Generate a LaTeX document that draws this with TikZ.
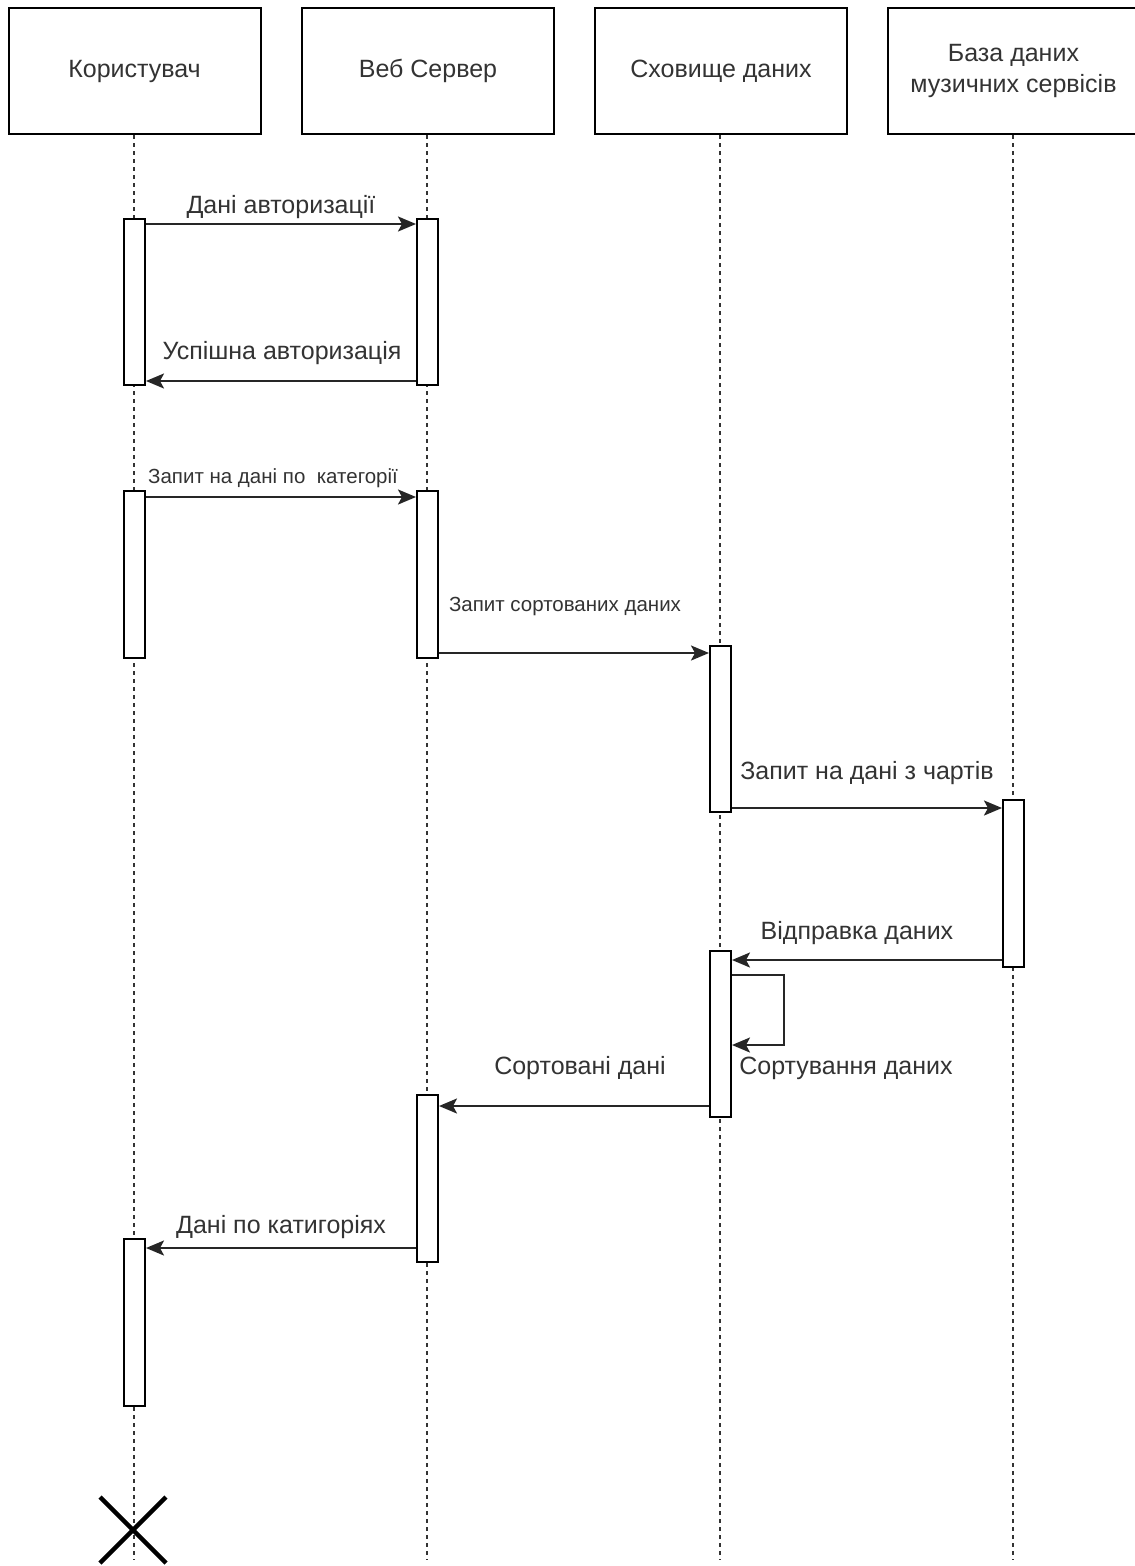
\documentclass[tikz,border=0pt]{standalone}
\usepackage{fontspec}
\setmainfont{Liberation Sans}
\usetikzlibrary{arrows.meta,calc}
\definecolor{txt}{HTML}{333333}
\tikzset{
  hdr/.style={draw=black,line width=2pt,fill=white,minimum width=252pt,minimum height=126pt,inner sep=0pt,font=\fontsize{25}{31}\selectfont,text=txt,align=center},
  act/.style={draw=black,line width=2pt,fill=white,minimum width=21pt,inner sep=0pt,anchor=north},
  life/.style={draw=black!80,line width=1.5pt,dash pattern=on 4pt off 4pt},
  msg/.style={draw=black!85,line width=2.3pt,-{Stealth[length=18pt,width=15pt,inset=4pt]}},
  lbl/.style={text=txt,inner sep=0pt,font=\fontsize{25}{30}\selectfont},
  slbl/.style={text=txt,inner sep=0pt,font=\fontsize{20.5}{24}\selectfont},
}
\begin{document}
\begin{tikzpicture}[x=1pt,y=-1pt]
\useasboundingbox[fill=white] (0,0) rectangle (1135,1566);
% headers
\node[hdr] (h1) at (134.5,71) {Користувач};
\node[hdr] (h2) at (428,71) {Веб Сервер};
\node[hdr] (h3) at (721,71) {Сховище даних};
\node[hdr] (h4) at (1013.5,71) {База даних\\музичних сервісів};
% lifeline ends
\coordinate (e1) at (134,1560);
\coordinate (e2) at (427,1560);
\coordinate (e3) at (720,1560);
\coordinate (e4) at (1013,1560);
\draw[life] (h1.south -| e1) -- (e1);
\draw[life] (h2.south -| e2) -- (e2);
\draw[life] (h3.south -| e3) -- (e3);
\draw[life] (h4.south -| e4) -- (e4);
% activations
\node[act,minimum height=166pt] (ua1) at (134.5,218) {};
\node[act,minimum height=166pt] (sa1) at (427.5,218) {};
\node[act,minimum height=167pt] (ua2) at (134.5,490) {};
\node[act,minimum height=167pt] (sa2) at (427.5,490) {};
\node[act,minimum height=166pt] (st1) at (720.5,645) {};
\node[act,minimum height=167pt] (db1) at (1013.5,799) {};
\node[act,minimum height=166pt] (st2) at (720.5,950) {};
\node[act,minimum height=167pt] (sa3) at (427.5,1094) {};
\node[act,minimum height=167pt] (ua3) at (134.5,1238) {};
% messages
\draw[msg] ([yshift=-6pt]ua1.north east) -- ([yshift=-6pt]ua1.north east -| sa1.west);
\node[lbl] (l1) at (281,207) {Дані авторизації};
\draw[msg] ([yshift=5pt]sa1.south west) -- ([yshift=5pt]sa1.south west -| ua1.east);
\node[lbl] (l2) at (282,353) {Успішна авторизація};
\draw[msg] ([yshift=-7pt]ua2.north east) -- ([yshift=-7pt]ua2.north east -| sa2.west);
\node[slbl] (l3) at (273,478) {Запит на дані по\ \ категорії};
\draw[msg] ([yshift=6pt]sa2.south east) -- ([yshift=6pt]sa2.south east -| st1.west);
\node[slbl] (l4) at (565,606) {Запит сортованих даних};
\draw[msg] ([yshift=5pt]st1.south east) -- ([yshift=5pt]st1.south east -| db1.west);
\node[lbl] (l5) at (867,773) {Запит на дані з чартів};
\draw[msg] ([yshift=8pt]db1.south west) -- ([yshift=8pt]db1.south west -| st2.east);
\node[lbl] (l6) at (857,933) {Відправка даних};
\draw[msg] ([yshift=-25pt]st2.north east) -- ++(52,0) -- ++(0,70) -- ([yshift=-95pt]st2.north east);
\node[lbl] (l7) at (846,1068) {Сортування даних};
\draw[msg] ([yshift=12pt]st2.south west) -- ([yshift=12pt]st2.south west -| sa3.east);
\node[lbl] (l8) at (580,1068) {Сортовані дані};
\draw[msg] ([yshift=15pt]sa3.south west) -- ([yshift=15pt]sa3.south west -| ua3.east);
\node[lbl] (l9) at (281,1227) {Дані по катигоріях};
% destruction
\coordinate (x0) at (133,1530);
\draw[line width=4.5pt] ($(x0)+(-33,-33)$) -- ($(x0)+(33,33)$);
\draw[line width=4.5pt] ($(x0)+(-33,33)$) -- ($(x0)+(33,-33)$);
\end{tikzpicture}
\end{document}
